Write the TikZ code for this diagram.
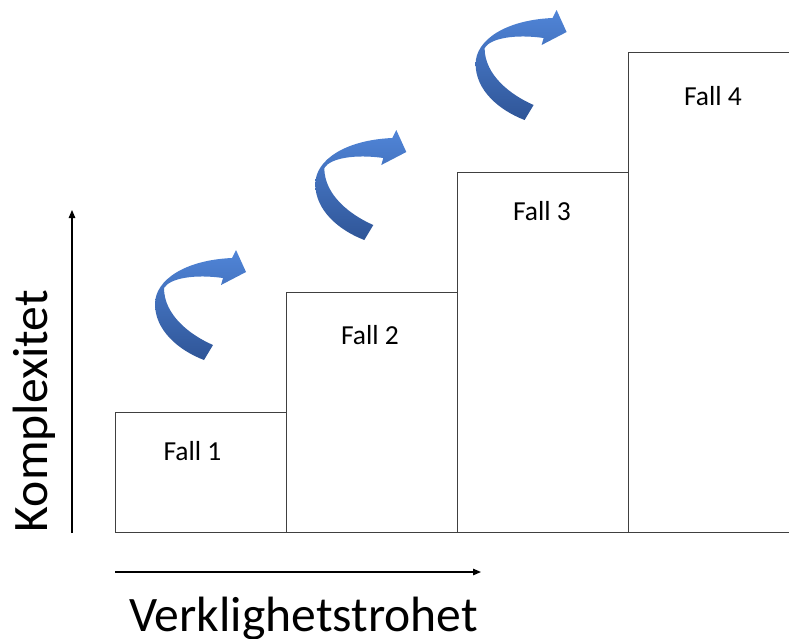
\documentclass[tikz,border=0pt]{standalone}
\usepackage{fontspec}
\setmainfont{Carlito}
\usetikzlibrary{arrows.meta}
\definecolor{boxline}{HTML}{404040}
\definecolor{arrowtop}{HTML}{5085D8}
\definecolor{arrowbot}{HTML}{2F5597}
\tikzset{
  fallbox/.style={draw=boxline, line width=0.9pt, minimum width=171pt, minimum height=#1, anchor=south west, inner sep=0pt},
  falltext/.style={font=\fontsize{27.5}{33}\selectfont, anchor=base, inner sep=0pt},
  axislabel/.style={font=\fontsize{49.6}{60}\selectfont, anchor=base, inner sep=0pt},
  axis/.style={line width=1.2pt, -{Triangle[length=8pt,width=6.5pt]}},
  bendarrow/.pic={
    \shade[top color=arrowtop, bottom color=arrowbot]
      (204,360) .. controls (178,350) and (155,330) .. (155,304)
      .. controls (155,280) and (185,260) .. (232,258)
      -- (236,250) -- (246,272) -- (221,285) -- (223,278)
      .. controls (195,274) and (170,278) .. (164,288)
      .. controls (164,315) and (190,335) .. (213,345) -- cycle;
  }
}
\begin{document}
\begin{tikzpicture}[x=1pt,y=-1pt]
\useasboundingbox (0,0) rectangle (789,638);
\clip (0,0) rectangle (789,638);
% boxes
\node[fallbox=120pt] (b1) at (115,533) {};
\node[fallbox=240pt] (b2) at (286,533) {};
\node[fallbox=360pt] (b3) at (457,533) {};
\node[fallbox=480pt] (b4) at (628,533) {};
% labels
\node[falltext] (t1) at (192.5,460) {Fall 1};
\node[falltext] (t2) at (370,344) {Fall 2};
\node[falltext] (t3) at (542,220) {Fall 3};
\node[falltext] (t4) at (713,105) {Fall 4};
% axes
\coordinate (ya) at (72,533);
\coordinate (yb) at (72,210);
\coordinate (xa) at (115,572);
\coordinate (xb) at (481,572);
\draw[axis] (ya) -- (yb);
\draw[axis] (xa) -- (xb);
\node[axislabel, rotate=90] (ylab) at (47,411) {Komplexitet};
\node[axislabel] (xlab) at (303.5,631) {Verklighetstrohet};
% curved arrows
\pic (a1) at (0,0) {bendarrow};
\pic (a2) at (160.3,-120) {bendarrow};
\pic (a3) at (320.6,-240) {bendarrow};
\end{tikzpicture}
\end{document}
